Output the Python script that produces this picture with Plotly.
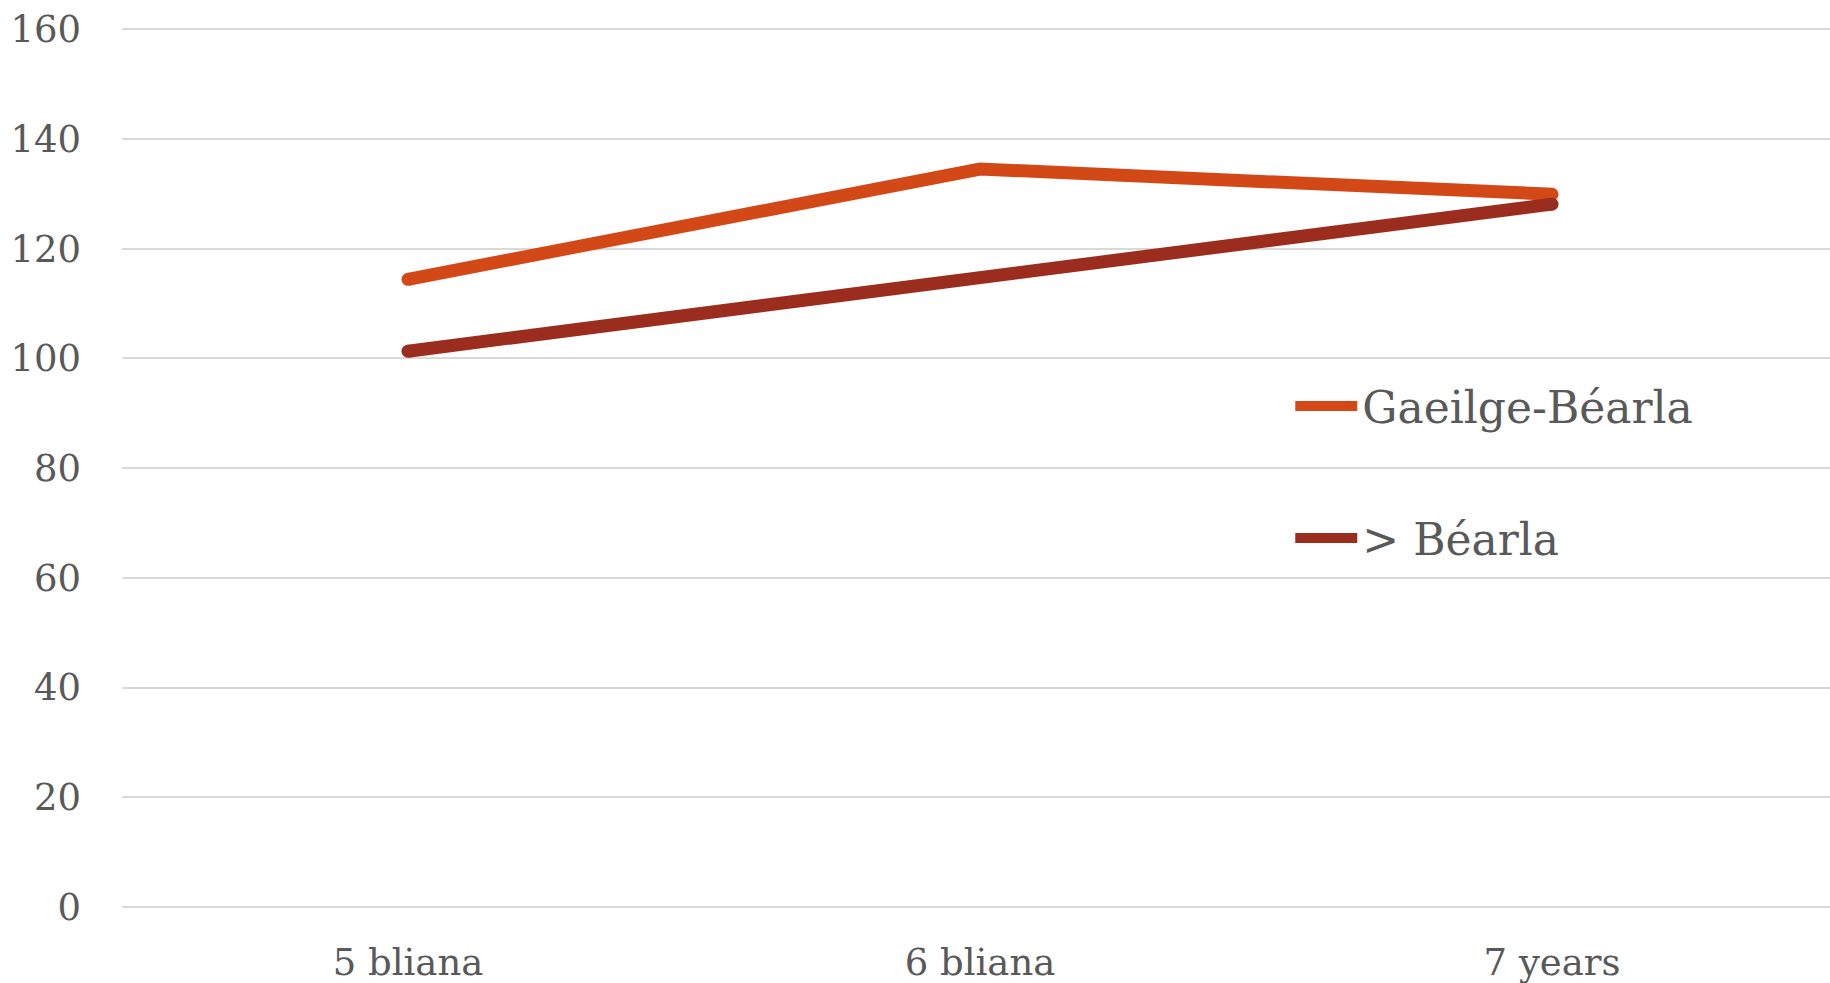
import plotly.graph_objects as go

# Chart data
categories = ["5 bliana", "6 bliana", "7 years"]
gaeilge_bearla = [114.4, 134.5, 129.9]
bearla = [101.3, 114.7, 128.1]
y_ticks = [0, 20, 40, 60, 80, 100, 120, 140, 160]

ORANGE = "#D34817"
DARK_RED = "#9B2D1F"
TEXT = "#595959"
GRID = "#D9D9D9"
FONT = "DejaVu Serif"

fig = go.Figure()

series = [
    ("Gaeilge-Béarla", gaeilge_bearla, ORANGE, "g1"),
    ("> Béarla", bearla, DARK_RED, "g2"),
]
for name, values, color, group in series:
    fig.add_trace(go.Scatter(
        x=categories,
        y=values,
        name=name,
        legendgroup=group,
        mode="lines+markers",
        line=dict(color=color, width=13),
        # round the line ends
        marker=dict(color=color, size=[13, 0, 13], opacity=1, line=dict(width=0)),
    ))

fig.update_layout(
    width=1830,
    height=983,
    margin=dict(l=122, r=0, t=28, b=76),
    paper_bgcolor="white",
    plot_bgcolor="white",
    font=dict(family=FONT, color=TEXT, size=37),
    showlegend=True,
    legend=dict(
        x=0.684, y=0.61, xanchor="left", yanchor="top",
        font=dict(family=FONT, size=44, color=TEXT),
        traceorder="grouped",
        tracegroupgap=72,
        itemwidth=62,
        bgcolor="rgba(0,0,0,0)",
    ),
    xaxis=dict(
        type="category",
        range=[-0.5, 2.486],
        showgrid=False,
        showline=False,
        zeroline=False,
        ticks="",
        ticklabelstandoff=30,
        tickfont=dict(family=FONT, size=37, color=TEXT),
    ),
    yaxis=dict(
        range=[0, 160.2],
        tickvals=y_ticks,
        showgrid=True,
        gridcolor=GRID,
        gridwidth=1.5,
        zeroline=True,
        zerolinecolor=GRID,
        zerolinewidth=1.5,
        showline=False,
        ticks="",
        ticklabelstandoff=40,
        tickfont=dict(family=FONT, size=37, color=TEXT),
    ),
)

fig.write_html("out.html")
